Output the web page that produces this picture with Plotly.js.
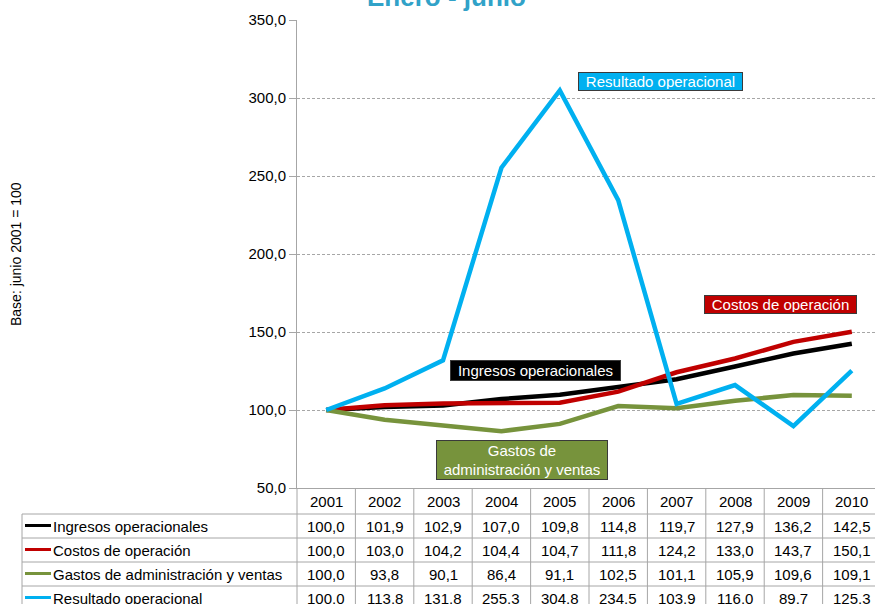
<!DOCTYPE html>
<html>
<head>
<meta charset="utf-8">
<script src="https://cdn.plot.ly/plotly-3.0.1.min.js"></script>
<style>html,body{margin:0;padding:0;background:#fff;}#chart{width:875px;height:604px;}</style>
</head>
<body>
<div id="chart"></div>
<script>
const years = ['2001','2002','2003','2004','2005','2006','2007','2008','2009','2010'];
const seriesNames = ['Ingresos operacionales','Costos de operación','Gastos de administración y ventas','Resultado operacional'];
const ingresos  = [100.0,101.9,102.9,107.0,109.8,114.8,119.7,127.9,136.2,142.5];
const costos    = [100.0,103.0,104.2,104.4,104.7,111.8,124.2,133.0,143.7,150.1];
const gastos    = [100.0,93.8,90.1,86.4,91.1,102.5,101.1,105.9,109.6,109.1];
const resultado = [100.0,113.8,131.8,255.3,304.8,234.5,103.9,116.0,89.7,125.3];
const yTicks = [50,100,150,200,250,300,350];

const seriesData = [ingresos, costos, gastos, resultado];
const colors = ['#000000','#c00000','#77933c','#00b0f0'];
const FONT = '"Liberation Sans", Arial, sans-serif';

const traces = seriesData.map((vals, k) => ({
  type: 'scatter', mode: 'lines', x: years, y: vals, name: seriesNames[k],
  line: {color: colors[k], width: 4.5}, hoverinfo: 'skip', cliponaxis: false
}));

// pixel helpers for table layout (plot area: top 20, bottom 488)
const pyToPaper = py => (488 - py) / 468;
const pxToPaper = px => (px - 297) / 578;
const gridCol = '#a6a6a6';

const fmt = v => v.toFixed(1).replace('.', ',');

const annotations = [];
const shapes = [];

// Title (partially cut at top)
annotations.push({text: '<b>Enero - junio</b>', xref: 'paper', yref: 'paper',
  x: pxToPaper(446), y: pyToPaper(-3), xanchor: 'center', yanchor: 'middle',
  showarrow: false, font: {family: FONT, size: 26, color: '#31a2c8'}});

// Y title
annotations.push({text: 'Base: junio 2001 = 100', xref: 'paper', yref: 'paper',
  x: pxToPaper(16), y: pyToPaper(254), xanchor: 'center', yanchor: 'middle',
  textangle: -90, showarrow: false, font: {family: FONT, size: 14, color: '#000'}});

// Table header years (category index positions on the x axis)
const headerY = pyToPaper(502);
years.forEach((yr, i) => annotations.push({text: yr, xref: 'x', yref: 'paper', x: i, y: headerY,
  xanchor: 'center', yanchor: 'middle', showarrow: false, font: {family: FONT, size: 15, color: '#000'}}));

// Table rows
const rowCenters = [526.5, 550.5, 574.5, 598.5];
seriesData.forEach((vals, k) => {
  const yp = pyToPaper(rowCenters[k]);
  vals.forEach((v, i) => annotations.push({text: fmt(v), xref: 'x', yref: 'paper', x: i, y: yp,
    xanchor: 'center', yanchor: 'middle', showarrow: false, font: {family: FONT, size: 15, color: '#000'}}));
  annotations.push({text: seriesNames[k], xref: 'paper', yref: 'paper', x: pxToPaper(51), y: yp,
    xanchor: 'left', yanchor: 'middle', showarrow: false, font: {family: FONT, size: 15, color: '#000'}});
  shapes.push({type: 'line', xref: 'paper', yref: 'paper', x0: pxToPaper(25), x1: pxToPaper(51),
    y0: pyToPaper(rowCenters[k]-1), y1: pyToPaper(rowCenters[k]-1), line: {color: colors[k], width: 3}});
});

// Table grid
[514, 538, 562, 586].forEach(py => shapes.push({type: 'line', xref: 'paper', yref: 'paper',
  x0: pxToPaper(22), x1: 1, y0: pyToPaper(py), y1: pyToPaper(py), line: {color: gridCol, width: 1}}));
shapes.push({type: 'line', xref: 'paper', yref: 'paper', x0: pxToPaper(22), x1: pxToPaper(22),
  y0: pyToPaper(514), y1: pyToPaper(610), line: {color: gridCol, width: 1}});
shapes.push({type: 'line', xref: 'paper', yref: 'paper', x0: 0, x1: 0,
  y0: 0, y1: pyToPaper(610), line: {color: gridCol, width: 1}});
for (let i = 1; i < years.length; i++) {
  shapes.push({type: 'line', xref: 'x', yref: 'paper', x0: i - 0.5, x1: i - 0.5,
    y0: 0, y1: pyToPaper(610), line: {color: gridCol, width: 1}});
}

// Series label boxes
const boxes = [
  {text: 'Resultado operacional', cx: 660, cy: 82, w: 161, h: 15, bg: '#00b0f0'},
  {text: 'Costos de operación', cx: 780, cy: 304, w: 149, h: 15, bg: '#c00000'},
  {text: 'Ingresos operacionales', cx: 535.5, cy: 370, w: 167, h: 17, bg: '#000000'},
  {text: 'Gastos de<br>administración y ventas', cx: 522, cy: 460, w: 168, h: 36, bg: '#77933c'}
];
boxes.forEach(b => annotations.push({text: b.text, xref: 'paper', yref: 'paper',
  x: pxToPaper(b.cx), y: pyToPaper(b.cy), xanchor: 'center', yanchor: 'middle',
  width: b.w, height: b.h, showarrow: false, bgcolor: b.bg, bordercolor: '#3a3a3a',
  borderwidth: 1, borderpad: 1, font: {family: FONT, size: 15, color: '#ffffff'}}));

const layout = {
  width: 875, height: 604,
  margin: {l: 297, r: 0, t: 20, b: 116, pad: 0},
  paper_bgcolor: '#ffffff', plot_bgcolor: '#ffffff',
  separators: ',.',
  showlegend: false,
  font: {family: FONT, size: 15, color: '#000'},
  xaxis: {type: 'category', categoryarray: years, range: [-0.5, 9.397], showticklabels: false,
    ticks: '', showgrid: false, zeroline: false, showline: true, linecolor: gridCol, linewidth: 1,
    fixedrange: true},
  yaxis: {range: [50, 350], tickvals: yTicks, tickformat: '.1f', ticks: 'outside', ticklen: 7,
    tickcolor: gridCol, showline: true, linecolor: gridCol, linewidth: 1, showgrid: true,
    gridcolor: gridCol, griddash: '3px,2px', gridwidth: 1, zeroline: false,
    tickfont: {family: FONT, size: 15, color: '#000'}, fixedrange: true},
  annotations: annotations,
  shapes: shapes
};

Plotly.newPlot('chart', traces, layout, {displayModeBar: false, staticPlot: true});
</script>
</body>
</html>
